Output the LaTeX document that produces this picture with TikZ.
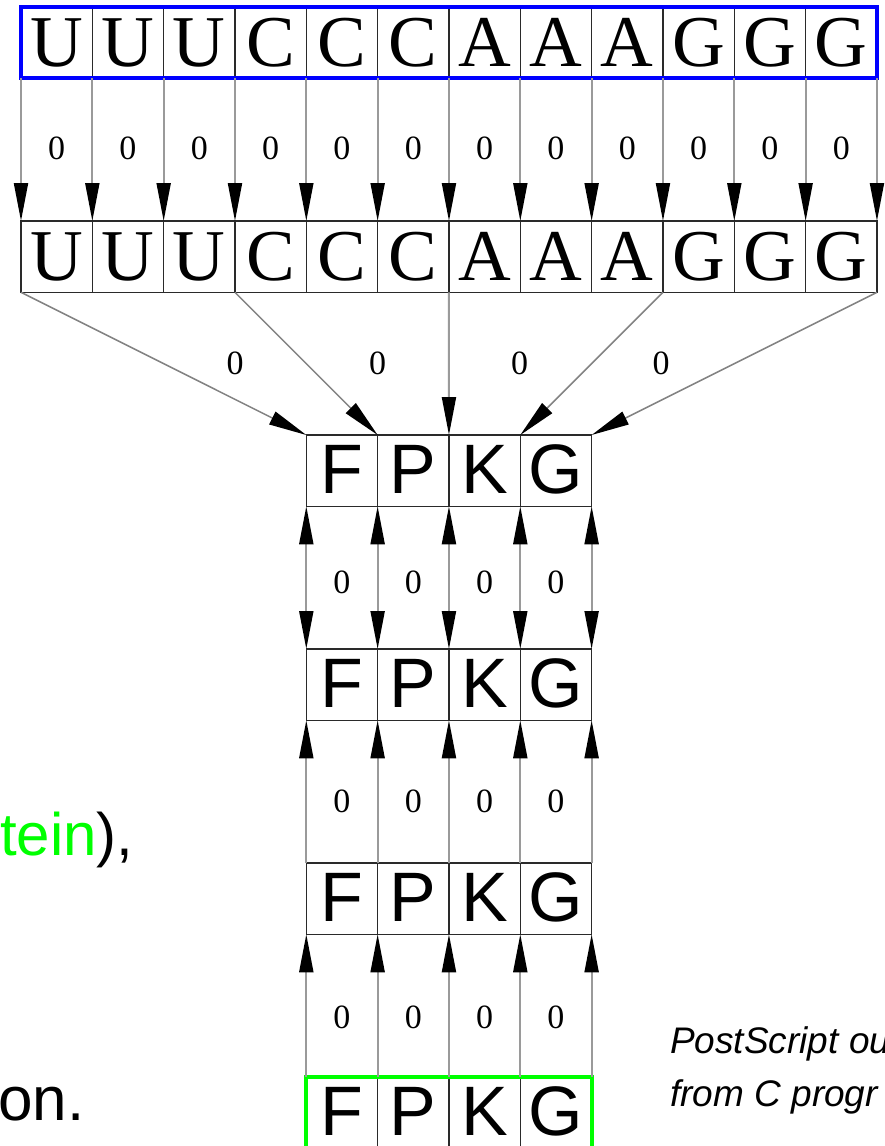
\documentclass[tikz,border=0pt]{standalone}
\usepackage{fontspec}
\setmainfont{Liberation Serif}
\newfontfamily\sansf{Liberation Sans}
\usetikzlibrary{arrows.meta,calc}
\definecolor{linegray}{HTML}{9A9A9A}
\definecolor{cellc}{HTML}{2A2A2A}
\definecolor{blu}{RGB}{0,0,255}
\definecolor{grn}{RGB}{0,255,0}
\begin{document}
\begin{tikzpicture}[x=1pt,y=-1pt,
  cellbase/.style={draw=cellc, line width=1.4pt, minimum width=71.33pt, minimum height=71.3pt, inner sep=0pt, outer sep=0pt, text depth=0pt},
  ncell/.style={cellbase, font=\fontsize{73}{80}\selectfont, text height=48pt},
  pcell/.style={cellbase, font=\sansf\fontsize{70}{80}\selectfont, text height=45pt},
  lbl/.style={inner sep=0pt, font=\fontsize{34}{40}\selectfont},
  conn/.style={draw=linegray, line width=2pt},
  fan/.style={draw=linegray!85!black, line width=1.5pt},
  tip/.style={-{Triangle[length=38pt,width=14pt,color=black]}},
  dtip/.style={{Triangle[length=38pt,width=14pt,color=black]}-{Triangle[length=38pt,width=14pt,color=black]}},
  frame/.style={line width=3.8pt}
]
\useasboundingbox (0,0) rectangle (885,1146);

% nucleotide rows
\foreach \L [count=\i] in {U,U,U,C,C,C,A,A,A,G,G,G} {
  \node[ncell] (r0c\i) at ({21+(\i-0.5)*71.33}, 42.65) {\L};
  \node[ncell] (r1c\i) at ({21+(\i-0.5)*71.33}, 256.65) {\L};
}
\draw[frame, blu] (r0c1.north west) rectangle (r0c12.south east);

% protein rows
\foreach \L [count=\i] in {F,P,K,G} {
  \node[pcell] (p1c\i) at ({306.3+(\i-0.5)*71.33}, 470.65) {\L};
  \node[pcell] (p2c\i) at ({306.3+(\i-0.5)*71.33}, 684.65) {\L};
  \node[pcell] (p3c\i) at ({306.3+(\i-0.5)*71.33}, 898.65) {\L};
  \node[pcell] (p4c\i) at ({306.3+(\i-0.5)*71.33}, 1112.65) {\L};
}
\draw[frame, grn] (p4c1.north west) rectangle (p4c4.south east);

% row 0 -> row 1
\foreach \i in {1,...,12} {
  \draw[conn, tip] (r0c\i.south west) -- (r1c\i.north west);
  \node[lbl] (l0c\i) at ($(r0c\i.south)!0.5!(r1c\i.north)+(0,-1.5)$) {0};
}
\draw[conn, tip] (r0c12.south east) -- (r1c12.north east);

% fan: codons -> amino acids
\draw[fan, tip] (r1c1.south west) -- (p1c1.north west);
\draw[fan, tip] (r1c4.south west) -- (p1c2.north west);
\draw[conn, tip] (r1c7.south west) -- (p1c3.north west);
\draw[fan, tip] (r1c10.south west) -- (p1c4.north west);
\draw[fan, tip] (r1c12.south east) -- (p1c4.north east);
\node[lbl] (f1) at (235,363) {0};
\node[lbl] (f2) at (377.5,363) {0};
\node[lbl] (f3) at (519.5,363) {0};
\node[lbl] (f4) at (661,363) {0};

% protein row links
\foreach \i in {1,...,4} {
  \draw[conn, dtip] (p1c\i.south west) -- (p2c\i.north west);
  \draw[conn, tip] (p3c\i.north west) -- (p2c\i.south west);
  \draw[conn, tip] (p4c\i.north west) -- (p3c\i.south west);
  \node[lbl] (m1c\i) at ($(p1c\i.south)!0.5!(p2c\i.north)+(0,5)$) {0};
  \node[lbl] (m2c\i) at ($(p2c\i.south)!0.5!(p3c\i.north)+(0,9.5)$) {0};
  \node[lbl] (m3c\i) at ($(p3c\i.south)!0.5!(p4c\i.north)+(0,11.5)$) {0};
}
\draw[conn, dtip] (p1c4.south east) -- (p2c4.north east);
\draw[conn, tip] (p3c4.north east) -- (p2c4.south east);
\draw[conn, tip] (p4c4.north east) -- (p3c4.south east);

% side texts
\node[anchor=base west, inner sep=0pt, font=\sansf\fontsize{60}{72}\selectfont] (t1) at (0,855) {\textcolor{grn}{tein}),};
\node[anchor=base west, inner sep=0pt, font=\sansf\fontsize{62}{72}\selectfont] (t2) at (-2,1120) {on.};
\node[anchor=base west, inner sep=0pt, font=\sansf\itshape\fontsize{37}{44}\selectfont] (t3) at (670,1053) {PostScript ou};
\node[anchor=base west, inner sep=0pt, font=\sansf\itshape\fontsize{37}{44}\selectfont] (t4) at (670,1106) {from C progr};
\end{tikzpicture}
\end{document}
